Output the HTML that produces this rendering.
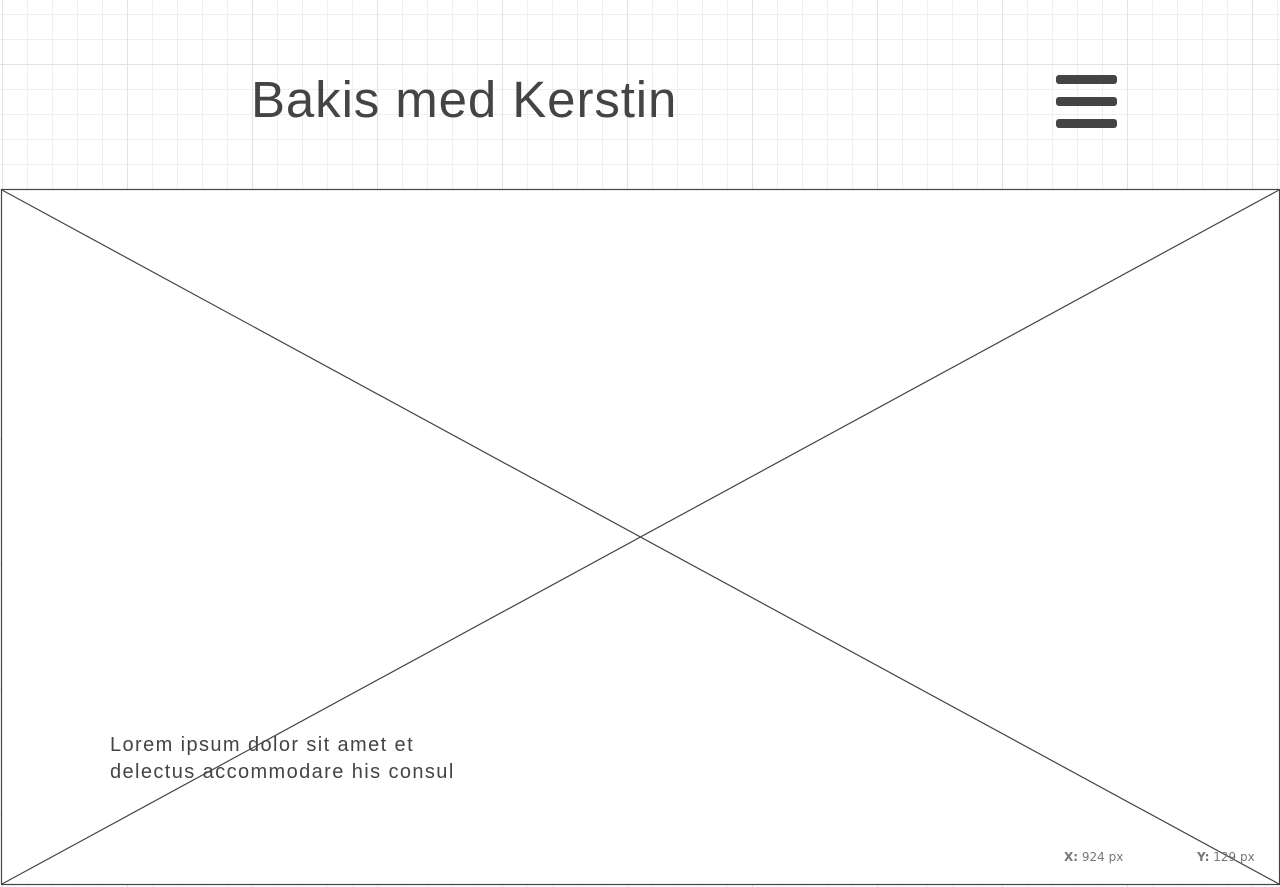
<!DOCTYPE html>
<html><head><style>
body{margin:0;width:1280px;height:887px;overflow:hidden;position:relative;font-family:"Liberation Sans",sans-serif;
background-color:#fff;
background-image:linear-gradient(to right,#e2e2e2 1px,transparent 1px),linear-gradient(to bottom,#e2e2e2 1px,transparent 1px),linear-gradient(to right,#efefef 1px,transparent 1px),linear-gradient(to bottom,#efefef 1px,transparent 1px);
background-size:125px 125px,125px 125px,25px 25px,25px 25px;
background-position:2px 64px,2px 64px,2px 14px,2px 14px;}
.t{position:absolute;left:251px;top:70px;font-size:51px;letter-spacing:0.9px;color:#444;white-space:nowrap}
.b{position:absolute;left:1056px;width:61px;height:9px;border-radius:3px;background:#444}
.l{position:absolute;left:110px;top:732px;font-size:20px;letter-spacing:1.4px;line-height:27px;color:#444;white-space:nowrap}
.c{position:absolute;font-family:"DejaVu Sans",sans-serif;font-size:12px;color:#777;top:850px}
</style></head><body>
<div class="t">Bakis med Kerstin</div>
<div class="b" style="top:75px"></div>
<div class="b" style="top:97px"></div>
<div class="b" style="top:119px"></div>
<svg width="1280" height="887" style="position:absolute;left:0;top:0">
<rect x="1.5" y="189.5" width="1278" height="695" fill="#fff" stroke="#444" stroke-width="1.2"/>
<line x1="2" y1="190" x2="1279" y2="884" stroke="#444" stroke-width="1.2"/>
<line x1="1279" y1="190" x2="2" y2="884" stroke="#444" stroke-width="1.2"/>
</svg>
<div class="l">Lorem ipsum dolor sit amet et<br>delectus accommodare his consul</div>
<div class="c" style="left:1064px"><b>X:</b> 924 px</div>
<div class="c" style="left:1197px"><b>Y:</b> 129 px</div>
</body></html>
